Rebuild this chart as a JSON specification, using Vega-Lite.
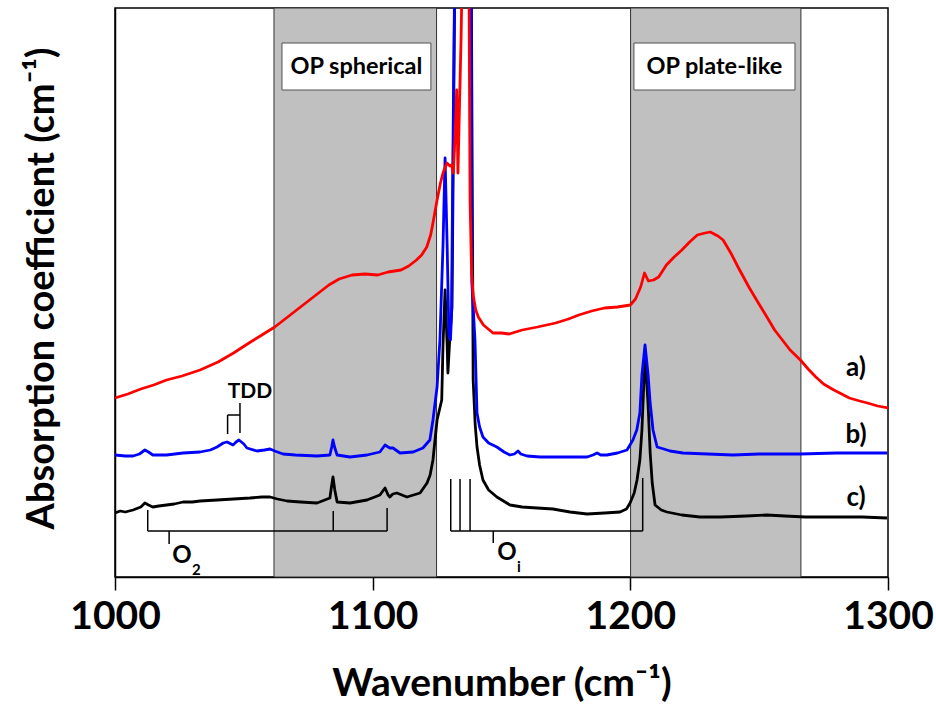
{
  "$schema": "https://vega.github.io/schema/vega-lite/v6.json",
  "width": 773,
  "height": 569,
  "autosize": {"type": "none"},
  "padding": {"left": 115, "top": 8, "right": 48, "bottom": 134},
  "background": "white",
  "config": {
    "view": {"stroke": "black", "strokeWidth": 1.5},
    "font": "Lato"
  },
  "datasets": {
    "bands": [
      {"start": 1061.7, "end": 1124.8, "region": "OP spherical"},
      {"start": 1200.1, "end": 1266.2, "region": "OP plate-like"}
    ],
    "boxes": [
      {"x": 1064.8, "x2": 1122.6, "y": 485, "y2": 532, "text": "OP spherical", "xc": 1093.7, "yc": 508},
      {"x": 1201.4, "x2": 1263.9, "y": 485, "y2": 532, "text": "OP plate-like", "xc": 1232.6, "yc": 508}
    ],
    "spectra": [
      {"s": "c", "wn": 1000, "v": 62}, {"s": "c", "wn": 1002, "v": 64}, {"s": "c", "wn": 1004, "v": 63}, {"s": "c", "wn": 1007, "v": 65}, {"s": "c", "wn": 1010, "v": 68}, {"s": "c", "wn": 1011.6, "v": 72}, {"s": "c", "wn": 1013, "v": 70}, {"s": "c", "wn": 1014.7, "v": 68}, {"s": "c", "wn": 1017, "v": 69}, {"s": "c", "wn": 1020, "v": 70}, {"s": "c", "wn": 1023, "v": 71}, {"s": "c", "wn": 1026.4, "v": 73}, {"s": "c", "wn": 1030, "v": 73}, {"s": "c", "wn": 1033, "v": 74}, {"s": "c", "wn": 1039.6, "v": 75}, {"s": "c", "wn": 1046, "v": 76}, {"s": "c", "wn": 1052.4, "v": 77}, {"s": "c", "wn": 1057, "v": 78}, {"s": "c", "wn": 1060.2, "v": 78}, {"s": "c", "wn": 1063, "v": 76}, {"s": "c", "wn": 1066.8, "v": 74}, {"s": "c", "wn": 1072, "v": 73}, {"s": "c", "wn": 1078.4, "v": 72}, {"s": "c", "wn": 1083.4, "v": 77}, {"s": "c", "wn": 1084, "v": 88}, {"s": "c", "wn": 1084.6, "v": 98}, {"s": "c", "wn": 1085.3, "v": 85}, {"s": "c", "wn": 1086.2, "v": 73}, {"s": "c", "wn": 1091.2, "v": 72}, {"s": "c", "wn": 1097.8, "v": 75}, {"s": "c", "wn": 1102.8, "v": 80}, {"s": "c", "wn": 1104.8, "v": 87}, {"s": "c", "wn": 1106, "v": 80}, {"s": "c", "wn": 1106.7, "v": 78}, {"s": "c", "wn": 1107.8, "v": 81}, {"s": "c", "wn": 1109.4, "v": 82}, {"s": "c", "wn": 1113.3, "v": 78}, {"s": "c", "wn": 1118.4, "v": 82}, {"s": "c", "wn": 1121.1, "v": 92}, {"s": "c", "wn": 1122.3, "v": 100}, {"s": "c", "wn": 1123.4, "v": 115}, {"s": "c", "wn": 1125, "v": 155}, {"s": "c", "wn": 1126.8, "v": 175}, {"s": "c", "wn": 1127.3, "v": 230}, {"s": "c", "wn": 1128.1, "v": 285}, {"s": "c", "wn": 1128.9, "v": 230}, {"s": "c", "wn": 1129.2, "v": 202}, {"s": "c", "wn": 1130, "v": 240}, {"s": "c", "wn": 1130.8, "v": 268}, {"s": "c", "wn": 1132, "v": 640}, {"s": "c", "wn": 1138.2, "v": 640}, {"s": "c", "wn": 1139, "v": 195}, {"s": "c", "wn": 1139.8, "v": 150}, {"s": "c", "wn": 1140.5, "v": 128}, {"s": "c", "wn": 1141.5, "v": 110}, {"s": "c", "wn": 1142.8, "v": 95}, {"s": "c", "wn": 1145, "v": 85}, {"s": "c", "wn": 1148.2, "v": 78}, {"s": "c", "wn": 1153.3, "v": 70}, {"s": "c", "wn": 1158, "v": 68}, {"s": "c", "wn": 1163.8, "v": 67}, {"s": "c", "wn": 1170, "v": 66}, {"s": "c", "wn": 1176.6, "v": 63}, {"s": "c", "wn": 1183.2, "v": 61}, {"s": "c", "wn": 1190, "v": 62}, {"s": "c", "wn": 1196, "v": 63}, {"s": "c", "wn": 1198.5, "v": 66}, {"s": "c", "wn": 1199.9, "v": 72}, {"s": "c", "wn": 1201.5, "v": 82}, {"s": "c", "wn": 1202.6, "v": 95}, {"s": "c", "wn": 1203.7, "v": 115}, {"s": "c", "wn": 1204.5, "v": 145}, {"s": "c", "wn": 1205.2, "v": 190}, {"s": "c", "wn": 1205.7, "v": 222}, {"s": "c", "wn": 1206.3, "v": 195}, {"s": "c", "wn": 1206.9, "v": 170}, {"s": "c", "wn": 1207.7, "v": 122}, {"s": "c", "wn": 1208.5, "v": 92}, {"s": "c", "wn": 1209.6, "v": 70}, {"s": "c", "wn": 1212, "v": 65}, {"s": "c", "wn": 1214.2, "v": 63}, {"s": "c", "wn": 1220, "v": 60}, {"s": "c", "wn": 1227, "v": 58}, {"s": "c", "wn": 1235, "v": 58}, {"s": "c", "wn": 1245, "v": 59}, {"s": "c", "wn": 1253, "v": 60}, {"s": "c", "wn": 1260, "v": 59}, {"s": "c", "wn": 1268, "v": 58}, {"s": "c", "wn": 1280, "v": 58}, {"s": "c", "wn": 1290, "v": 58}, {"s": "c", "wn": 1299.6, "v": 57},

      {"s": "b", "wn": 1000, "v": 120}, {"s": "b", "wn": 1004, "v": 119}, {"s": "b", "wn": 1007, "v": 119}, {"s": "b", "wn": 1009.5, "v": 121}, {"s": "b", "wn": 1011.6, "v": 125}, {"s": "b", "wn": 1013, "v": 123}, {"s": "b", "wn": 1014.7, "v": 120}, {"s": "b", "wn": 1020, "v": 120}, {"s": "b", "wn": 1026.4, "v": 122}, {"s": "b", "wn": 1033, "v": 123}, {"s": "b", "wn": 1037, "v": 125}, {"s": "b", "wn": 1039.6, "v": 128}, {"s": "b", "wn": 1042, "v": 132}, {"s": "b", "wn": 1043.5, "v": 133}, {"s": "b", "wn": 1045.8, "v": 130}, {"s": "b", "wn": 1047, "v": 133}, {"s": "b", "wn": 1048.1, "v": 135}, {"s": "b", "wn": 1050, "v": 131}, {"s": "b", "wn": 1051.2, "v": 127}, {"s": "b", "wn": 1055.1, "v": 124}, {"s": "b", "wn": 1058, "v": 125}, {"s": "b", "wn": 1060.2, "v": 126}, {"s": "b", "wn": 1062, "v": 124}, {"s": "b", "wn": 1065.2, "v": 121}, {"s": "b", "wn": 1070, "v": 120}, {"s": "b", "wn": 1078.4, "v": 119}, {"s": "b", "wn": 1083.4, "v": 120}, {"s": "b", "wn": 1084.1, "v": 128}, {"s": "b", "wn": 1084.6, "v": 135}, {"s": "b", "wn": 1085.2, "v": 128}, {"s": "b", "wn": 1086.2, "v": 120}, {"s": "b", "wn": 1091.2, "v": 118}, {"s": "b", "wn": 1097.8, "v": 120}, {"s": "b", "wn": 1102.8, "v": 123}, {"s": "b", "wn": 1104.8, "v": 130}, {"s": "b", "wn": 1106, "v": 128}, {"s": "b", "wn": 1106.7, "v": 127}, {"s": "b", "wn": 1107.9, "v": 127}, {"s": "b", "wn": 1110.6, "v": 122}, {"s": "b", "wn": 1115.7, "v": 123}, {"s": "b", "wn": 1119.5, "v": 127}, {"s": "b", "wn": 1122.2, "v": 135}, {"s": "b", "wn": 1123.4, "v": 155}, {"s": "b", "wn": 1125, "v": 188}, {"s": "b", "wn": 1126.1, "v": 235}, {"s": "b", "wn": 1127.3, "v": 330}, {"s": "b", "wn": 1128.1, "v": 417}, {"s": "b", "wn": 1128.9, "v": 330}, {"s": "b", "wn": 1129.6, "v": 240}, {"s": "b", "wn": 1130.2, "v": 235}, {"s": "b", "wn": 1130.6, "v": 260}, {"s": "b", "wn": 1131.2, "v": 435}, {"s": "b", "wn": 1132, "v": 640}, {"s": "b", "wn": 1138.2, "v": 640}, {"s": "b", "wn": 1138.5, "v": 292}, {"s": "b", "wn": 1139.7, "v": 235}, {"s": "b", "wn": 1140.5, "v": 162}, {"s": "b", "wn": 1141.5, "v": 148}, {"s": "b", "wn": 1142.8, "v": 138}, {"s": "b", "wn": 1145, "v": 132}, {"s": "b", "wn": 1148.2, "v": 128}, {"s": "b", "wn": 1151, "v": 123}, {"s": "b", "wn": 1153.3, "v": 120}, {"s": "b", "wn": 1155, "v": 121}, {"s": "b", "wn": 1156.4, "v": 124}, {"s": "b", "wn": 1157.5, "v": 121}, {"s": "b", "wn": 1159.9, "v": 119}, {"s": "b", "wn": 1165, "v": 118}, {"s": "b", "wn": 1170, "v": 118}, {"s": "b", "wn": 1176, "v": 118}, {"s": "b", "wn": 1183.2, "v": 118}, {"s": "b", "wn": 1185.5, "v": 120}, {"s": "b", "wn": 1187.1, "v": 122}, {"s": "b", "wn": 1188.5, "v": 120}, {"s": "b", "wn": 1190.9, "v": 120}, {"s": "b", "wn": 1195, "v": 122}, {"s": "b", "wn": 1198.7, "v": 125}, {"s": "b", "wn": 1201, "v": 135}, {"s": "b", "wn": 1202.5, "v": 145}, {"s": "b", "wn": 1203.7, "v": 162}, {"s": "b", "wn": 1204.5, "v": 200}, {"s": "b", "wn": 1205.7, "v": 230}, {"s": "b", "wn": 1206.9, "v": 200}, {"s": "b", "wn": 1207.7, "v": 172}, {"s": "b", "wn": 1208.8, "v": 145}, {"s": "b", "wn": 1210.4, "v": 128}, {"s": "b", "wn": 1213, "v": 126}, {"s": "b", "wn": 1215.4, "v": 124}, {"s": "b", "wn": 1220.4, "v": 122}, {"s": "b", "wn": 1230, "v": 121}, {"s": "b", "wn": 1239.8, "v": 120}, {"s": "b", "wn": 1250, "v": 121}, {"s": "b", "wn": 1265.8, "v": 121}, {"s": "b", "wn": 1280, "v": 122}, {"s": "b", "wn": 1299.6, "v": 122},

      {"s": "a", "wn": 1000, "v": 177}, {"s": "a", "wn": 1005, "v": 181}, {"s": "a", "wn": 1010, "v": 186}, {"s": "a", "wn": 1015, "v": 190}, {"s": "a", "wn": 1020, "v": 195}, {"s": "a", "wn": 1026, "v": 199}, {"s": "a", "wn": 1033, "v": 205}, {"s": "a", "wn": 1040, "v": 213}, {"s": "a", "wn": 1046, "v": 222}, {"s": "a", "wn": 1052, "v": 232}, {"s": "a", "wn": 1057, "v": 240}, {"s": "a", "wn": 1062, "v": 248}, {"s": "a", "wn": 1067, "v": 258}, {"s": "a", "wn": 1072, "v": 268}, {"s": "a", "wn": 1078, "v": 280}, {"s": "a", "wn": 1083, "v": 290}, {"s": "a", "wn": 1087, "v": 296}, {"s": "a", "wn": 1092, "v": 300}, {"s": "a", "wn": 1097, "v": 301}, {"s": "a", "wn": 1102, "v": 300}, {"s": "a", "wn": 1106, "v": 303}, {"s": "a", "wn": 1111, "v": 305}, {"s": "a", "wn": 1114, "v": 309}, {"s": "a", "wn": 1117, "v": 315}, {"s": "a", "wn": 1119, "v": 320}, {"s": "a", "wn": 1121, "v": 328}, {"s": "a", "wn": 1122.5, "v": 340}, {"s": "a", "wn": 1123.4, "v": 352}, {"s": "a", "wn": 1125, "v": 375}, {"s": "a", "wn": 1126.3, "v": 392}, {"s": "a", "wn": 1127.3, "v": 402}, {"s": "a", "wn": 1128.8, "v": 412}, {"s": "a", "wn": 1130, "v": 409}, {"s": "a", "wn": 1130.7, "v": 410}, {"s": "a", "wn": 1131.3, "v": 402}, {"s": "a", "wn": 1132, "v": 440}, {"s": "a", "wn": 1132.6, "v": 485}, {"s": "a", "wn": 1133.1, "v": 402}, {"s": "a", "wn": 1133.7, "v": 470}, {"s": "a", "wn": 1134.3, "v": 535}, {"s": "a", "wn": 1135, "v": 640}, {"s": "a", "wn": 1137.3, "v": 640}, {"s": "a", "wn": 1137.8, "v": 375}, {"s": "a", "wn": 1138.4, "v": 302}, {"s": "a", "wn": 1139, "v": 280}, {"s": "a", "wn": 1140, "v": 265}, {"s": "a", "wn": 1141, "v": 258}, {"s": "a", "wn": 1143, "v": 250}, {"s": "a", "wn": 1146.7, "v": 242}, {"s": "a", "wn": 1150, "v": 242}, {"s": "a", "wn": 1153, "v": 241}, {"s": "a", "wn": 1158, "v": 245}, {"s": "a", "wn": 1164, "v": 248}, {"s": "a", "wn": 1171, "v": 252}, {"s": "a", "wn": 1176, "v": 256}, {"s": "a", "wn": 1180, "v": 260}, {"s": "a", "wn": 1185, "v": 264}, {"s": "a", "wn": 1190, "v": 267}, {"s": "a", "wn": 1195, "v": 268}, {"s": "a", "wn": 1200, "v": 270}, {"s": "a", "wn": 1202, "v": 276}, {"s": "a", "wn": 1204, "v": 288}, {"s": "a", "wn": 1205.5, "v": 302}, {"s": "a", "wn": 1207, "v": 294}, {"s": "a", "wn": 1209, "v": 295}, {"s": "a", "wn": 1211, "v": 298}, {"s": "a", "wn": 1214, "v": 310}, {"s": "a", "wn": 1217, "v": 318}, {"s": "a", "wn": 1220, "v": 325}, {"s": "a", "wn": 1223, "v": 333}, {"s": "a", "wn": 1226, "v": 340}, {"s": "a", "wn": 1229, "v": 342}, {"s": "a", "wn": 1231, "v": 343}, {"s": "a", "wn": 1234, "v": 339}, {"s": "a", "wn": 1236, "v": 335}, {"s": "a", "wn": 1239, "v": 322}, {"s": "a", "wn": 1242, "v": 307}, {"s": "a", "wn": 1246, "v": 288}, {"s": "a", "wn": 1249, "v": 275}, {"s": "a", "wn": 1253, "v": 258}, {"s": "a", "wn": 1256, "v": 245}, {"s": "a", "wn": 1259, "v": 235}, {"s": "a", "wn": 1262, "v": 225}, {"s": "a", "wn": 1266, "v": 215}, {"s": "a", "wn": 1269, "v": 206}, {"s": "a", "wn": 1272, "v": 198}, {"s": "a", "wn": 1275, "v": 191}, {"s": "a", "wn": 1279, "v": 185}, {"s": "a", "wn": 1282, "v": 181}, {"s": "a", "wn": 1285, "v": 177}, {"s": "a", "wn": 1289, "v": 174}, {"s": "a", "wn": 1292, "v": 172}, {"s": "a", "wn": 1296, "v": 169}, {"s": "a", "wn": 1300, "v": 167}
    ],
    "rules": [
      {"x": 1012.7, "x2": 1105.6, "y": 44, "y2": 44},
      {"x": 1012.7, "x2": 1012.7, "y": 44, "y2": 65},
      {"x": 1084.7, "x2": 1084.7, "y": 44, "y2": 64},
      {"x": 1105.6, "x2": 1105.6, "y": 44, "y2": 67},
      {"x": 1021, "x2": 1021, "y": 44, "y2": 31},
      {"x": 1130.3, "x2": 1204.8, "y": 44, "y2": 44},
      {"x": 1130.3, "x2": 1130.3, "y": 44, "y2": 96},
      {"x": 1133.9, "x2": 1133.9, "y": 44, "y2": 96},
      {"x": 1137.8, "x2": 1137.8, "y": 44, "y2": 96},
      {"x": 1204.8, "x2": 1204.8, "y": 44, "y2": 97},
      {"x": 1146.8, "x2": 1146.8, "y": 44, "y2": 32},
      {"x": 1043.7, "x2": 1043.7, "y": 141, "y2": 160},
      {"x": 1043.7, "x2": 1048.5, "y": 160, "y2": 160},
      {"x": 1048.5, "x2": 1048.5, "y": 142, "y2": 172}
    ],
    "curveLabels": [
      {"x": 1287.6, "y": 207, "text": "a)"},
      {"x": 1287.6, "y": 140, "text": "b)"},
      {"x": 1287.6, "y": 77, "text": "c)"}
    ],
    "tdd": [{"x": 1052.4, "y": 183, "text": "TDD"}],
    "bigO": [
      {"x": 1026, "y": 19, "text": "O"},
      {"x": 1152.1, "y": 22, "text": "O"}
    ],
    "subs": [
      {"x": 1031.6, "y": 5, "text": "2"},
      {"x": 1156.8, "y": 8, "text": "i"}
    ]
  },
  "encoding": {
    "x": {
      "type": "quantitative",
      "scale": {"domain": [1000, 1300], "nice": false, "zero": false},
      "axis": {
        "values": [1000, 1100, 1200, 1300],
        "format": "d",
        "grid": false,
        "tickSize": 13,
        "tickWidth": 1.5,
        "tickColor": "black",
        "domainColor": "black",
        "domainWidth": 1.5,
        "labelFont": "Lato",
        "labelFontWeight": "bold",
        "labelFontSize": 39,
        "labelColor": "black",
        "labelPadding": 7,
        "labelFlush": false,
        "title": "Wavenumber (cm⁻¹)",
        "titleFont": "Lato",
        "titleFontWeight": "bold",
        "titleFontSize": 39,
        "titleColor": "black",
        "titleBaseline": "alphabetic",
        "titleY": 118
      }
    },
    "y": {
      "type": "quantitative",
      "scale": {"domain": [-2, 567], "nice": false, "zero": false},
      "axis": {
        "labels": false,
        "ticks": false,
        "grid": false,
        "domainColor": "black",
        "domainWidth": 1.5,
        "title": "Absorption coefficient (cm⁻¹)",
        "titleFont": "Lato",
        "titleFontWeight": "bold",
        "titleFontSize": 38,
        "titleColor": "black",
        "titleBaseline": "alphabetic",
        "titleX": -62,
        "titleY": 280
      }
    }
  },
  "layer": [
    {
      "data": {"name": "bands"},
      "mark": {"type": "rect", "fill": "#c0c0c0", "stroke": "#303030", "strokeWidth": 1},
      "encoding": {
        "x": {"field": "start", "type": "quantitative"},
        "x2": {"field": "end"}
      }
    },
    {
      "data": {"name": "boxes"},
      "mark": {"type": "rect", "fill": "white", "stroke": "#505050", "strokeWidth": 1},
      "encoding": {
        "x": {"field": "x", "type": "quantitative"},
        "x2": {"field": "x2"},
        "y": {"field": "y", "type": "quantitative"},
        "y2": {"field": "y2"}
      }
    },
    {
      "data": {"name": "boxes"},
      "mark": {"type": "text", "font": "Lato", "fontWeight": "bold", "fontSize": 23.5, "baseline": "middle", "align": "center", "color": "black"},
      "encoding": {
        "x": {"field": "xc", "type": "quantitative"},
        "y": {"field": "yc", "type": "quantitative"},
        "text": {"field": "text"}
      }
    },
    {
      "data": {"name": "spectra"},
      "mark": {"type": "line", "clip": true, "strokeWidth": 2.8, "strokeJoin": "round"},
      "encoding": {
        "x": {"field": "wn", "type": "quantitative"},
        "y": {"field": "v", "type": "quantitative"},
        "color": {
          "field": "s",
          "type": "nominal",
          "scale": {"domain": ["c", "b", "a"], "range": ["#000000", "#0000ff", "#ff0000"]},
          "legend": null
        }
      }
    },
    {
      "data": {"name": "rules"},
      "mark": {"type": "rule", "color": "black", "strokeWidth": 1.5},
      "encoding": {
        "x": {"field": "x", "type": "quantitative"},
        "x2": {"field": "x2"},
        "y": {"field": "y", "type": "quantitative"},
        "y2": {"field": "y2"}
      }
    },
    {
      "data": {"name": "curveLabels"},
      "mark": {"type": "text", "font": "Lato", "fontWeight": "bold", "fontSize": 26, "baseline": "middle", "align": "center", "color": "black"},
      "encoding": {
        "x": {"field": "x", "type": "quantitative"},
        "y": {"field": "y", "type": "quantitative"},
        "text": {"field": "text"}
      }
    },
    {
      "data": {"name": "tdd"},
      "mark": {"type": "text", "font": "Lato", "fontWeight": "bold", "fontSize": 21, "baseline": "middle", "align": "center", "color": "black"},
      "encoding": {
        "x": {"field": "x", "type": "quantitative"},
        "y": {"field": "y", "type": "quantitative"},
        "text": {"field": "text"}
      }
    },
    {
      "data": {"name": "bigO"},
      "mark": {"type": "text", "font": "Lato", "fontWeight": "bold", "fontSize": 24, "baseline": "middle", "align": "center", "color": "black"},
      "encoding": {
        "x": {"field": "x", "type": "quantitative"},
        "y": {"field": "y", "type": "quantitative"},
        "text": {"field": "text"}
      }
    },
    {
      "data": {"name": "subs"},
      "mark": {"type": "text", "font": "Lato", "fontWeight": "bold", "fontSize": 15, "baseline": "middle", "align": "center", "color": "black"},
      "encoding": {
        "x": {"field": "x", "type": "quantitative"},
        "y": {"field": "y", "type": "quantitative"},
        "text": {"field": "text"}
      }
    }
  ]
}
